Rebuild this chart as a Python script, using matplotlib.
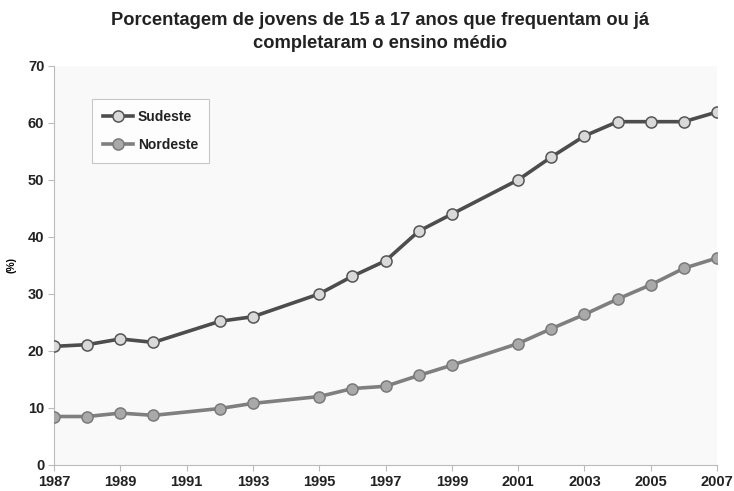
import matplotlib.pyplot as plt

# dados
anos = [1987, 1988, 1989, 1990, 1992, 1993, 1995, 1996, 1997, 1998, 1999,
        2001, 2002, 2003, 2004, 2005, 2006, 2007]
sudeste = [20.8, 21.1, 22.1, 21.5, 25.2, 26.0, 30.0, 33.1, 35.8, 41.0, 44.0,
           50.0, 54.0, 57.7, 60.2, 60.2, 60.2, 61.9]
nordeste = [8.5, 8.5, 9.1, 8.7, 9.9, 10.8, 12.0, 13.4, 13.8, 15.7, 17.5,
            21.3, 23.9, 26.4, 29.1, 31.6, 34.5, 36.3]
xticks = list(range(1987, 2008, 2))
yticks = list(range(0, 71, 10))

plt.rcParams['font.family'] = ['Liberation Sans', 'DejaVu Sans']

fig = plt.figure(figsize=(7.34, 4.91), dpi=100)
ax = fig.add_axes([0.0736, 0.053, 0.9034, 0.813])
ax.set_facecolor('#f9f9f9')

ax.plot(anos, sudeste, '-o', color='#4d4d4d', lw=2.6, ms=8,
        mfc='#d9d9d9', mec='#555555', mew=1.1, label='Sudeste', zorder=3)
ax.plot(anos, nordeste, '-o', color='#7f7f7f', lw=2.6, ms=8,
        mfc='#a9a9a9', mec='#7a7a7a', mew=1.1, label='Nordeste', zorder=3)

ax.set_xlim(1987, 2007)
ax.set_ylim(0, 70)
ax.set_xticks(xticks)
ax.set_yticks(yticks)
ax.tick_params(labelsize=10.5, length=4, color='#bbbbbb', pad=3)
for lab in ax.get_xticklabels() + ax.get_yticklabels():
    lab.set_fontweight('bold')
    lab.set_color('#222222')

for s in ['top', 'right']:
    ax.spines[s].set_visible(False)
for s in ['left', 'bottom']:
    ax.spines[s].set_color('#bbbbbb')

ax.set_ylabel('(%)', fontsize=7.5, fontweight='bold', labelpad=8)

leg = ax.legend(loc='upper left', bbox_to_anchor=(0.057, 0.918), frameon=True,
                fancybox=False, edgecolor='#bbbbbb', facecolor='white',
                prop={'size': 10, 'weight': 'bold'}, handlelength=2.2,
                borderpad=0.8, labelspacing=1.0, handletextpad=0.3,
                borderaxespad=0)
leg.get_frame().set_linewidth(0.8)
for t in leg.get_texts():
    t.set_color('#222222')

fig.suptitle('Porcentagem de jovens de 15 a 17 anos que frequentam ou já\n'
             'completaram o ensino médio', x=0.518, y=0.975,
             fontsize=13.2, fontweight='bold', color='#222222', linespacing=1.45)

fig.savefig('out.png', dpi=100)
